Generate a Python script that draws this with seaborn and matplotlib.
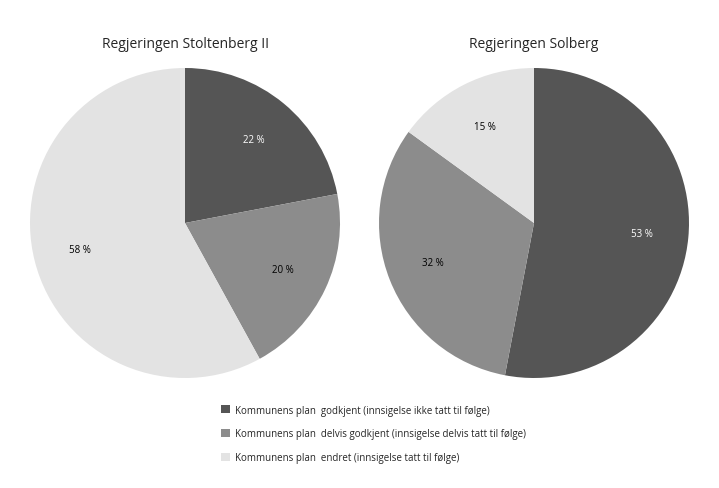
import matplotlib
matplotlib.use("Agg")
import matplotlib.pyplot as plt
import seaborn as sns
from matplotlib.patches import Patch

sns.set_theme(style="white")
plt.rcParams['font.family'] = ['Open Sans', 'DejaVu Sans']

categories = ["Kommunens plan  godkjent (innsigelse ikke tatt til følge)",
              "Kommunens plan  delvis godkjent (innsigelse delvis tatt til følge)",
              "Kommunens plan  endret (innsigelse tatt til følge)"]
titles = ["Regjeringen Stoltenberg II", "Regjeringen Solberg"]
stoltenberg = [22, 20, 58]
solberg = [53, 32, 15]
colors = ["#555555", "#8c8c8c", "#e3e3e3"]
text_colors = ["white", "black", "black"]

fig = plt.figure(figsize=(7.19, 4.89), dpi=100)
W, H = 719, 489
r = 155
for cx, vals, title in [(185, stoltenberg, titles[0]), (534, solberg, titles[1])]:
    ax = fig.add_axes([(cx - r) / W, (H - 224 - r) / H, 2 * r / W, 2 * r / H])
    wedges, texts, autotexts = ax.pie(vals, colors=colors, startangle=90, counterclock=False,
                                      autopct=lambda p: f"{p:.0f} %", pctdistance=0.7,
                                      wedgeprops=dict(linewidth=0))
    for t, c in zip(autotexts, text_colors):
        t.set_color(c)
        t.set_fontsize(7)
    ax.set_xlim(-1, 1)
    ax.set_ylim(-1, 1)
    ax.set_aspect("equal")
    ax.axis("off")
    fig.text(cx / W, 1 - 45 / H, title, ha="center", va="center", fontsize=10)

handles = [Patch(facecolor=c, edgecolor="none") for c in colors]
fig.legend(handles, categories, loc="upper left", bbox_to_anchor=(212 / W, 1 - 397 / H),
           frameon=False, fontsize=7, handlelength=0.9, handleheight=0.9,
           labelspacing=1.3, handletextpad=0.6)

fig.savefig("out.png", dpi=100)
